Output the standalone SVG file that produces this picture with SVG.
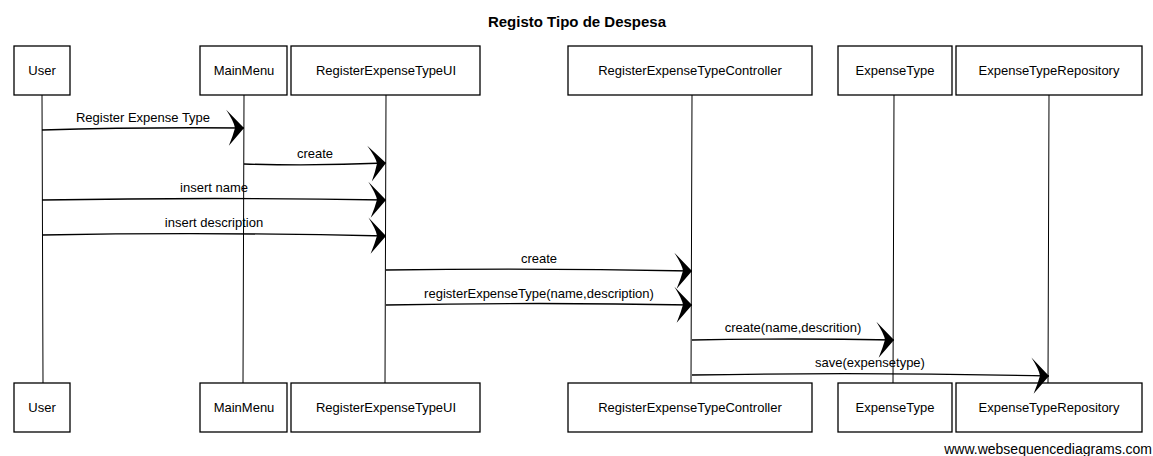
<svg xmlns="http://www.w3.org/2000/svg" width="1153" height="456" viewBox="0 0 1153 456">
<style>
.box{fill:#fff;stroke:#000;stroke-width:1.3}
.life{stroke:#000;stroke-width:1;fill:none}
.msg{stroke:#000;stroke-width:1.3;fill:none}
.t{font-family:"Liberation Sans",Arial,sans-serif;font-size:13px;fill:#000;text-anchor:middle}
.title{font-family:"Liberation Sans",Arial,sans-serif;font-size:15px;font-weight:bold;fill:#000;text-anchor:middle}
.foot{font-family:"Liberation Sans",Arial,sans-serif;font-size:14px;fill:#000;text-anchor:end}
</style>
<defs>
<marker id="ah" markerUnits="userSpaceOnUse" viewBox="-22 -20 24 40" refX="0" refY="0" markerWidth="24" markerHeight="40" orient="auto">
<path d="M0,0 L-18,-18 Q-10,-6 -9,0 Q-11,8 -15,18 Z" fill="#000"/>
</marker>
</defs>
<rect width="1153" height="456" fill="#fff"/>
<text class="title" x="577" y="27">Registo Tipo de Despesa</text>
<g id="lifelines">
<line class="life" x1="42" y1="95" x2="43" y2="383"/>
<line class="life" x1="244" y1="95" x2="243" y2="383"/>
<line class="life" x1="386" y1="95" x2="385" y2="383"/>
<line class="life" x1="692" y1="95" x2="691" y2="383"/>
<line class="life" x1="894" y1="95" x2="893" y2="383"/>
<line class="life" x1="1049" y1="95" x2="1048" y2="383"/>
</g>
<g id="node-user">
<rect class="box" x="14" y="46" width="56" height="49"/>
<text class="t" x="42" y="75">User</text>
<rect class="box" x="14" y="383" width="56" height="49"/>
<text class="t" x="42" y="412">User</text>
</g>
<g id="node-mainmenu">
<rect class="box" x="200" y="46" width="87" height="49"/>
<text class="t" x="244" y="75">MainMenu</text>
<rect class="box" x="200" y="383" width="87" height="49"/>
<text class="t" x="244" y="412">MainMenu</text>
</g>
<g id="node-ui">
<rect class="box" x="291" y="46" width="189" height="49"/>
<text class="t" x="386" y="75">RegisterExpenseTypeUI</text>
<rect class="box" x="291" y="383" width="189" height="49"/>
<text class="t" x="386" y="412">RegisterExpenseTypeUI</text>
</g>
<g id="node-controller">
<rect class="box" x="568" y="46" width="244" height="49"/>
<text class="t" x="690" y="75">RegisterExpenseTypeController</text>
<rect class="box" x="568" y="383" width="244" height="49"/>
<text class="t" x="690" y="412">RegisterExpenseTypeController</text>
</g>
<g id="node-expensetype">
<rect class="box" x="838" y="46" width="114" height="49"/>
<text class="t" x="895" y="75">ExpenseType</text>
<rect class="box" x="838" y="383" width="114" height="49"/>
<text class="t" x="895" y="412">ExpenseType</text>
</g>
<g id="node-repository">
<rect class="box" x="956" y="46" width="186" height="49"/>
<text class="t" x="1049" y="75">ExpenseTypeRepository</text>
<rect class="box" x="956" y="383" width="186" height="49"/>
<text class="t" x="1049" y="412">ExpenseTypeRepository</text>
</g>
<g id="connectors">
<path class="msg" marker-end="url(#ah)" d="M42,130 Q140,127 244,128"/>
<text class="t" x="143" y="122">Register Expense Type</text>
<path class="msg" marker-end="url(#ah)" d="M244,164 Q315,166 386,163"/>
<text class="t" x="315" y="158">create</text>
<path class="msg" marker-end="url(#ah)" d="M42,200 Q214,197 386,200"/>
<text class="t" x="214" y="192">insert name</text>
<path class="msg" marker-end="url(#ah)" d="M42,235 Q214,232 386,236"/>
<text class="t" x="214" y="227">insert description</text>
<path class="msg" marker-end="url(#ah)" d="M386,270 Q539,268 692,271"/>
<text class="t" x="539" y="263">create</text>
<path class="msg" marker-end="url(#ah)" d="M386,305 Q539,302 692,305"/>
<text class="t" x="539" y="298">registerExpenseType(name,description)</text>
<path class="msg" marker-end="url(#ah)" d="M692,340 Q793,338 894,340"/>
<text class="t" x="793" y="332">create(name,descrition)</text>
<path class="msg" marker-end="url(#ah)" d="M692,375 Q870,372 1049,376"/>
<text class="t" x="870" y="367">save(expensetype)</text>
</g>
<text class="foot" x="1152" y="454">www.websequencediagrams.com</text>
</svg>
